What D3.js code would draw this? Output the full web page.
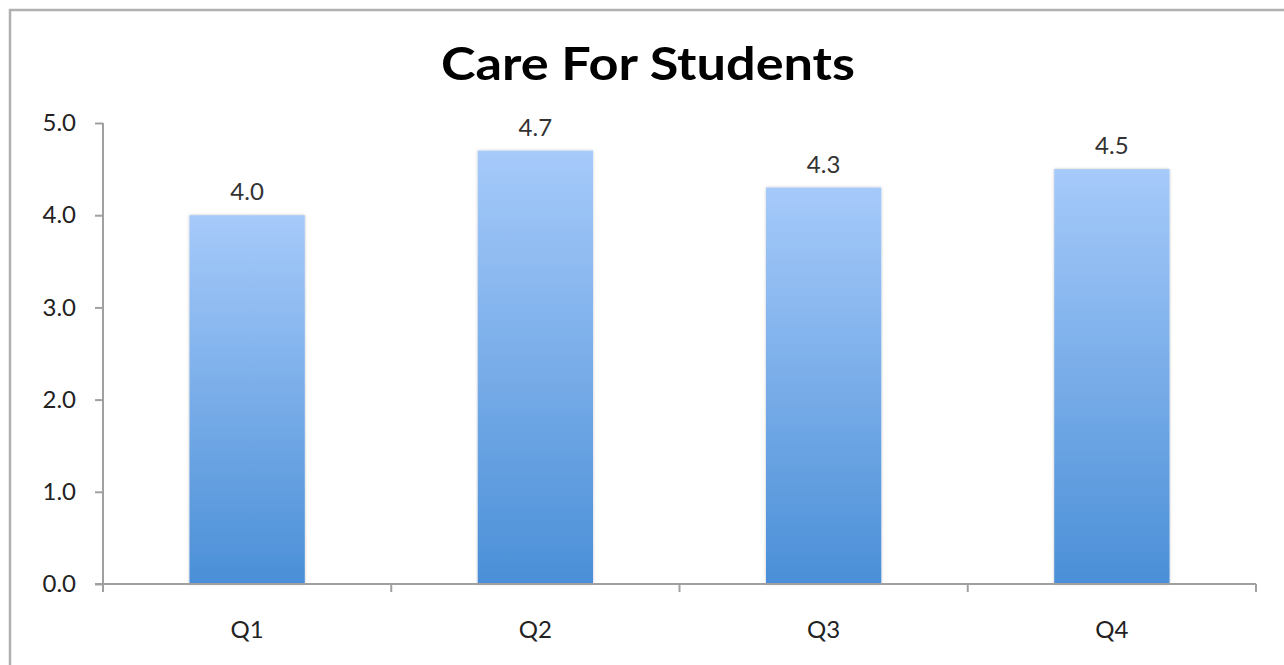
<!DOCTYPE html>
<html>
<head>
<meta charset="utf-8">
<script src="https://cdn.jsdelivr.net/npm/d3@7"></script>
<style>
  html, body { margin: 0; padding: 0; background: #fff; }
  svg { display: block; }
</style>
</head>
<body>
<svg id="chart" width="1284" height="665"></svg>
<script>
const categories = ["Q1", "Q2", "Q3", "Q4"];
const values = [4.0, 4.7, 4.3, 4.5];
const yTicks = [0, 1, 2, 3, 4, 5];
const title = "Care For Students";

const svg = d3.select("#chart");
const W = 1284, H = 665;
const margin = { left: 103, right: 28, top: 123, bottom: 81 };
const x0 = margin.left, x1 = W - margin.right;   // 103 .. 1256
const yTop = margin.top, yBot = H - margin.bottom; // 123 .. 584

// outer frame (cut off at right/bottom)
svg.append("rect")
  .attr("x", 10).attr("y", 10)
  .attr("width", W + 20).attr("height", H + 20)
  .attr("fill", "none").attr("stroke", "#b0b0b0").attr("stroke-width", 2.5);

const defs = svg.append("defs");
const grad = defs.append("linearGradient")
  .attr("id", "barGrad").attr("x1", 0).attr("y1", 0).attr("x2", 0).attr("y2", 1);
grad.append("stop").attr("offset", "0%").attr("stop-color", "#a6cafa");
grad.append("stop").attr("offset", "100%").attr("stop-color", "#4a8fd7");

const shadow = defs.append("filter").attr("id", "shadow")
  .attr("x", "-10%").attr("y", "-10%").attr("width", "120%").attr("height", "120%");
shadow.append("feGaussianBlur").attr("in", "SourceAlpha").attr("stdDeviation", 1.5).attr("result", "b");
shadow.append("feComponentTransfer").attr("in", "b").attr("result", "b2")
  .append("feFuncA").attr("type", "linear").attr("slope", 0.25);
const merge = shadow.append("feMerge");
merge.append("feMergeNode").attr("in", "b2");
merge.append("feMergeNode").attr("in", "SourceGraphic");

const x = d3.scaleBand().domain(categories).range([x0, x1]).paddingInner(0.6).paddingOuter(0.3);
const y = d3.scaleLinear().domain([0, 5]).range([yBot, yTop]);

const fontFam = "'Lato', 'Open Sans', 'DejaVu Sans', sans-serif";
const fs = 24;

// title
svg.append("text")
  .attr("x", 648).attr("y", 80)
  .attr("text-anchor", "middle")
  .attr("font-family", fontFam)
  .attr("font-weight", "bold")
  .attr("font-size", 46)
  .attr("textLength", 414)
  .attr("lengthAdjust", "spacingAndGlyphs")
  .attr("fill", "#000")
  .text(title);

// bars
svg.append("g").selectAll("rect")
  .data(values)
  .join("rect")
  .attr("x", (d, i) => x(categories[i]))
  .attr("y", d => y(d))
  .attr("width", x.bandwidth())
  .attr("height", d => y(0) - y(d))
  .attr("fill", "url(#barGrad)")
  .attr("filter", "url(#shadow)");

// data labels
svg.append("g").selectAll("text")
  .data(values)
  .join("text")
  .attr("x", (d, i) => x(categories[i]) + x.bandwidth() / 2)
  .attr("y", d => y(d) - 15)
  .attr("text-anchor", "middle")
  .attr("font-family", fontFam)
  .attr("font-size", fs)
  .attr("fill", "#333")
  .text(d => d.toFixed(1));

// y axis
const yAxis = d3.axisLeft(y).tickValues(yTicks).tickFormat(d3.format(".1f")).tickSize(8).tickPadding(19);
const gy = svg.append("g").attr("transform", `translate(${x0},0)`).call(yAxis);
gy.select(".domain").remove();
gy.selectAll(".tick line").attr("stroke", "#a0a0a0").attr("stroke-width", 2);
gy.selectAll(".tick text").attr("font-family", fontFam).attr("font-size", fs).attr("fill", "#222");
svg.append("line")
  .attr("x1", x0).attr("x2", x0).attr("y1", yTop).attr("y2", yBot + 8)
  .attr("stroke", "#a0a0a0").attr("stroke-width", 2);

// x axis
const xb = d3.scalePoint().domain(d3.range(categories.length + 1)).range([x0, x1]);
const gx = svg.append("g").attr("transform", `translate(0,${yBot})`);
gx.append("line").attr("x1", x0 - 8).attr("x2", x1).attr("y1", 0).attr("y2", 0)
  .attr("stroke", "#a0a0a0").attr("stroke-width", 2);
gx.selectAll("line.tk").data(xb.domain()).join("line").attr("class", "tk")
  .attr("x1", d => xb(d)).attr("x2", d => xb(d)).attr("y1", 0).attr("y2", 8)
  .attr("stroke", "#a0a0a0").attr("stroke-width", 2);
gx.selectAll("text").data(categories).join("text")
  .attr("x", d => x(d) + x.bandwidth() / 2)
  .attr("y", 54)
  .attr("text-anchor", "middle")
  .attr("font-family", fontFam)
  .attr("font-size", fs)
  .attr("fill", "#222")
  .text(d => d);
</script>
</body>
</html>
